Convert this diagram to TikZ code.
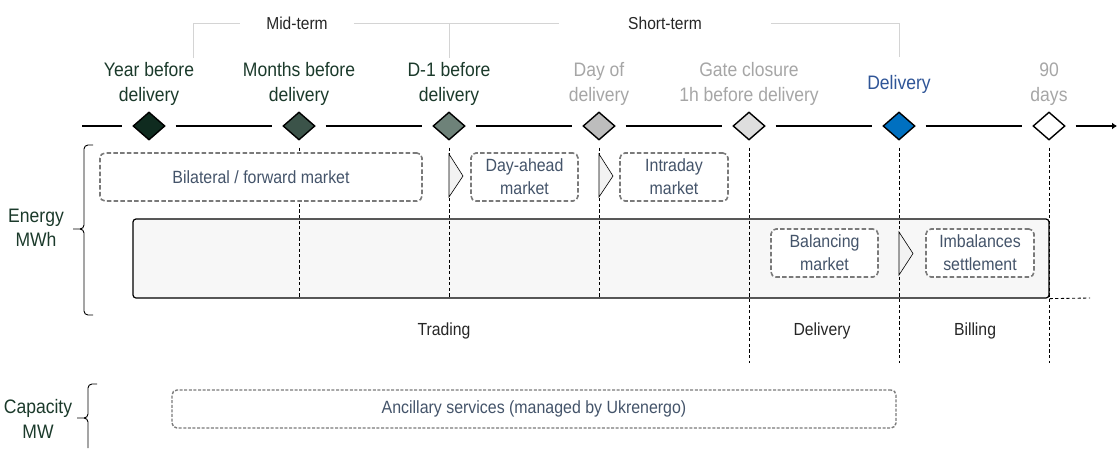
\documentclass[tikz,border=0pt]{standalone}
\usepackage{fontspec}
\setmainfont{Liberation Sans}[FakeStretch=0.9]
\usetikzlibrary{shapes.geometric, arrows.meta}

\definecolor{txtgreen}{HTML}{1B3A2B}
\definecolor{dA}{HTML}{0F2B1F}
\definecolor{dB}{HTML}{3B5349}
\definecolor{dC}{HTML}{6E8279}
\definecolor{dD}{HTML}{BDBDBD}
\definecolor{dE}{HTML}{DEDEDE}
\definecolor{dF}{HTML}{0070C0}
\definecolor{txtgray}{HTML}{A6A6A6}
\definecolor{txtblue}{HTML}{2F5597}
\definecolor{slate}{HTML}{44546A}
\definecolor{dashgray}{HTML}{7A7A7A}
\definecolor{brkgray}{HTML}{D4D4D4}
\definecolor{panel}{HTML}{F7F7F7}

\tikzset{
  milestone/.style={diamond, draw=black, line width=1.4pt, inner sep=0pt,
    minimum width=32pt, minimum height=28pt},
  toplabel/.style={align=center, inner sep=0pt,
    font=\fontsize{19.5}{24.5}\selectfont},
  termlabel/.style={inner ysep=0pt, font=\fontsize{17.3}{19}\selectfont, text=black!85},
  phaselabel/.style={inner sep=0pt, font=\fontsize{17.5}{19}\selectfont, text=black!85},
  sidelabel/.style={align=center, inner sep=0pt, text=txtgreen,
    font=\fontsize{19.5}{24.5}\selectfont},
  timeline/.style={line width=1.6pt, black},
  brk/.style={draw=brkgray, line width=0.7pt},
  guide/.style={black, line width=0.85pt, dash pattern=on 3.2pt off 2.4pt},
  market/.style={draw=dashgray, line width=1.6pt, dash pattern=on 4.5pt off 2.3pt,
    rounded corners=5pt, fill=white, align=center, inner sep=0pt,
    text=slate, font=\fontsize{17.7}{23}\selectfont, minimum height=48pt},
  chevron/.style={draw=black, line width=0.6pt, fill=black!5},
  bracegray/.style={draw=black, line width=0.9pt},
}

\begin{document}
\begin{tikzpicture}[x=1pt, y=-1pt]
\useasboundingbox (0,0) rectangle (1118,448);

% time axis milestones
\node[milestone, fill=dA] (m1) at (149,126) {};
\node[milestone, fill=dB] (m2) at (299,126) {};
\node[milestone, fill=dC] (m3) at (449,126) {};
\node[milestone, fill=dD] (m4) at (599,126) {};
\node[milestone, fill=dE] (m5) at (749,126) {};
\node[milestone, fill=dF] (m6) at (899,126) {};
\node[milestone, fill=white] (m7) at (1049,126) {};
\coordinate (axstart) at (82,126);
\coordinate (axend) at (1117,126);

\draw[timeline, shorten >=10pt] (axstart) -- (m1.west);
\foreach \a/\b in {m1/m2, m2/m3, m3/m4, m4/m5, m5/m6, m6/m7}
  \draw[timeline, shorten <=10pt, shorten >=10pt] (\a.east) -- (\b.west);
\draw[timeline, shorten <=10pt, -{Latex[length=5pt, width=7pt]}] (m7.east) -- (axend);

% milestone captions
\node[toplabel, text=txtgreen] (l1) at (149,84) {Year before\\delivery};
\node[toplabel, text=txtgreen] (l2) at (299,84) {Months before\\delivery};
\node[toplabel, text=txtgreen] (l3) at (449,84) {D-1 before\\delivery};
\node[toplabel, text=txtgray]  (l4) at (599,84) {Day of\\delivery};
\node[toplabel, text=txtgray]  (l5) at (749,84) {Gate closure\\1h before delivery};
\node[toplabel, text=txtblue]  (l6) at (899,84) {Delivery};
\node[toplabel, text=txtgray]  (l7) at (1049,84) {90\\days};

% horizon brackets
\node[termlabel, inner xsep=26pt] (mid) at (297,23) {Mid-term};
\node[termlabel, inner xsep=69pt] (short) at (665,23) {Short-term};
\draw[brk] (193,58) -- (193,23) -- (mid.west);
\draw[brk] (mid.east) -- (short.west);
\draw[brk] (449,23) -- (449,58);
\draw[brk] (short.east) -- (899,23) -- (899,57);

% energy panel
\node[draw=black, line width=1.2pt, fill=panel, rounded corners=3pt,
  minimum width=916pt, minimum height=79pt, inner sep=0pt] (panel) at (591,258.5) {};

% vertical guides
\coordinate (gend) at (0,363);
\foreach \m in {m2, m3, m4}
  \draw[guide] ([yshift=-7pt]\m.south) -- (\m |- panel.south);
\foreach \m in {m5, m6, m7}
  \draw[guide] ([yshift=-7pt]\m.south) -- (\m |- gend);
\coordinate (ptail) at (1090,298);
\draw[guide] (panel.south east) -- (ptail);

% markets
\node[market, minimum width=322pt] (bilat) at (261,177) {Bilateral / forward market};
\node[market, minimum width=107pt] (dam) at (524.5,177) {Day-ahead\\market};
\node[market, minimum width=108pt] (idm) at (674,177) {Intraday\\market};
\node[market, minimum width=107pt] (bal) at (824.5,253) {Balancing\\market};
\node[market, minimum width=108pt] (imb) at (980,253) {Imbalances\\settlement};
\node[market, minimum width=724pt, minimum height=38pt,
  dash pattern=on 3pt off 1.6pt, line width=1.4pt] (anc) at (534,409)
  {Ancillary services (managed by Ukrenergo)};

% sequence chevrons
\draw[chevron] (449,154) -- (463,176) -- (449,197) -- cycle;
\draw[chevron] (599,154) -- (613,176) -- (599,197) -- cycle;
\draw[chevron] (899,232) -- (913,253.5) -- (899,275) -- cycle;

% phases
\node[phaselabel] (trading) at (444,331) {Trading};
\node[phaselabel] (deliv) at (822,331) {Delivery};
\node[phaselabel] (billing) at (975,331) {Billing};

% side labels and braces
\node[sidelabel] (energy) at (36,228) {Energy\\MWh};
\node[sidelabel] (cap) at (38,419) {Capacity\\MW};
\draw[bracegray] (93,145) -- (88,145) to[out=180,in=90] (84,149) -- (84,225)
  to[out=-90,in=0] (80,229) -- (73,229);
\draw[bracegray] (80,229) to[out=0,in=90] (84,233) -- (84,311)
  to[out=-90,in=180] (88,315) -- (93,315);
\draw[bracegray] (97,384) -- (92,384) to[out=180,in=90] (88,388) -- (88,414)
  to[out=-90,in=0] (84,418) -- (77,418);
\draw[bracegray] (84,418) to[out=0,in=90] (88,422) -- (88,448);
\end{tikzpicture}
\end{document}
